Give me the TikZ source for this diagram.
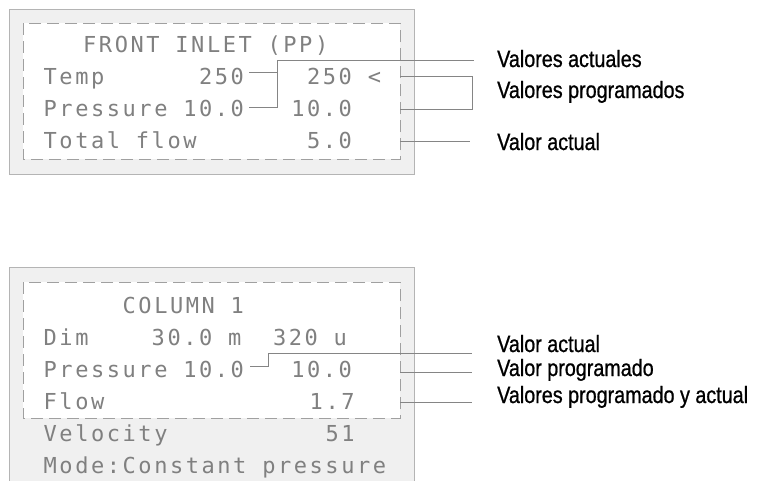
\documentclass[tikz,border=0pt]{standalone}
\usepackage{fontspec}
\newfontfamily\lcdfont[LetterSpace=11.6]{DejaVu Sans Mono}
\newfontfamily\lblfont[FakeStretch=0.84,FakeBold=0.8]{Liberation Sans}
% display text: fixed character pitch of 15.8pt, spaces one cell wide
\newcommand\lcdtext{\lcdfont\fontsize{22}{22}\selectfont
  \fontdimen2\font=15.8pt\relax\fontdimen3\font=0pt\relax
  \fontdimen4\font=0pt\relax\fontdimen7\font=0pt\relax\frenchspacing}
\definecolor{lcdgray}{HTML}{808080}
\definecolor{wiregray}{HTML}{858585}
\definecolor{panelgray}{HTML}{F0F0F0}
\definecolor{edgegray}{HTML}{B4B4B4}
\definecolor{dashgray}{HTML}{A0A0A0}
\begin{document}
\begin{tikzpicture}[x=1pt,y=-1pt,
  lcd/.style={anchor=base west, inner sep=0pt, text=lcdgray, font=\lcdtext},
  lbl/.style={anchor=base west, inner sep=0pt, text=black,
    font={\lblfont\fontsize{23.5}{23.5}\selectfont}},
  wire/.style={draw=wiregray, line width=0.9pt},
  panel/.style={fill=panelgray, draw=edgegray, line width=0.6pt},
  window/.style={fill=white, draw=dashgray, line width=0.8pt,
    dash pattern=on 12pt off 6pt}]
\useasboundingbox (0,0) rectangle (757,480);

% ---------- front inlet display ----------
\draw[panel] (9,9) rectangle (414,174);
\draw[window] (23,23) rectangle (400,159);
\node[lcd] (fi-title) at (83,52) {FRONT~INLET~(PP)};
\node[lcd] (fi-temp)  at (43.5,84)  {Temp~~~~~~250~~~~250~<};
\node[lcd] (fi-pres)  at (43.5,116) {Pressure~10.0~~~10.0};
\node[lcd] (fi-flow)  at (43.5,148) {Total~flow~~~~~~~5.0};

\node[lbl] (l-act)  at (497,67)  {Valores actuales};
\node[lbl] (l-prog) at (497,98)  {Valores programados};
\node[lbl] (l-flow) at (497,150) {Valor actual};

\coordinate (a-temp) at (249,72);
\coordinate (a-pres) at (249,107);
\coordinate (a-join) at (277,60);
\coordinate (a-end)  at (474,60);
\draw[wire] (a-temp) -- (a-temp -| a-join);
\draw[wire] (a-pres) -- (a-pres -| a-join) -- (a-join) -- (a-end);

\coordinate (p-temp) at (400,76);
\coordinate (p-pres) at (400,109);
\coordinate (p-side) at (472,76);
\draw[wire] (p-temp) -- (p-side) -- (p-side |- p-pres) -- (p-pres);

\coordinate (f-start) at (400,141);
\coordinate (f-end)   at (470,141);
\draw[wire] (f-start) -- (f-end);

% ---------- column display ----------
\draw[panel] (9,267) rectangle (414,490);
\draw[window] (23,282) rectangle (400,418);
\node[lcd] (c-title) at (122.5,313) {COLUMN~1};
\node[lcd] (c-dim)   at (43.5,345)  {Dim~~~~30.0~m~~320~u};
\node[lcd] (c-pres)  at (43.5,377)  {Pressure~10.0~~~10.0};
\node[lcd] (c-flow)  at (43.5,409)  {Flow~~~~~~~~~~~~~1.7};
\node[lcd] (c-vel)   at (43.5,441)  {Velocity~~~~~~~~~~51};
\node[lcd] (c-mode)  at (43.5,473)  {Mode:Constant~pressure};

\node[lbl] (m-act)  at (497,352) {Valor actual};
\node[lbl] (m-prog) at (497,376) {Valor programado};
\node[lbl] (m-both) at (497,403) {Valores programado y actual};

\coordinate (b-pres) at (250,366);
\coordinate (b-step) at (268,353);
\coordinate (b-end)  at (472,353);
\draw[wire] (b-pres) -- (b-pres -| b-step) -- (b-step) -- (b-end);

\coordinate (b-set)     at (400,372);
\coordinate (b-set-end) at (472,372);
\draw[wire] (b-set) -- (b-set-end);

\coordinate (b-flow)     at (400,402);
\coordinate (b-flow-end) at (472,402);
\draw[wire] (b-flow) -- (b-flow-end);
\end{tikzpicture}
\end{document}
